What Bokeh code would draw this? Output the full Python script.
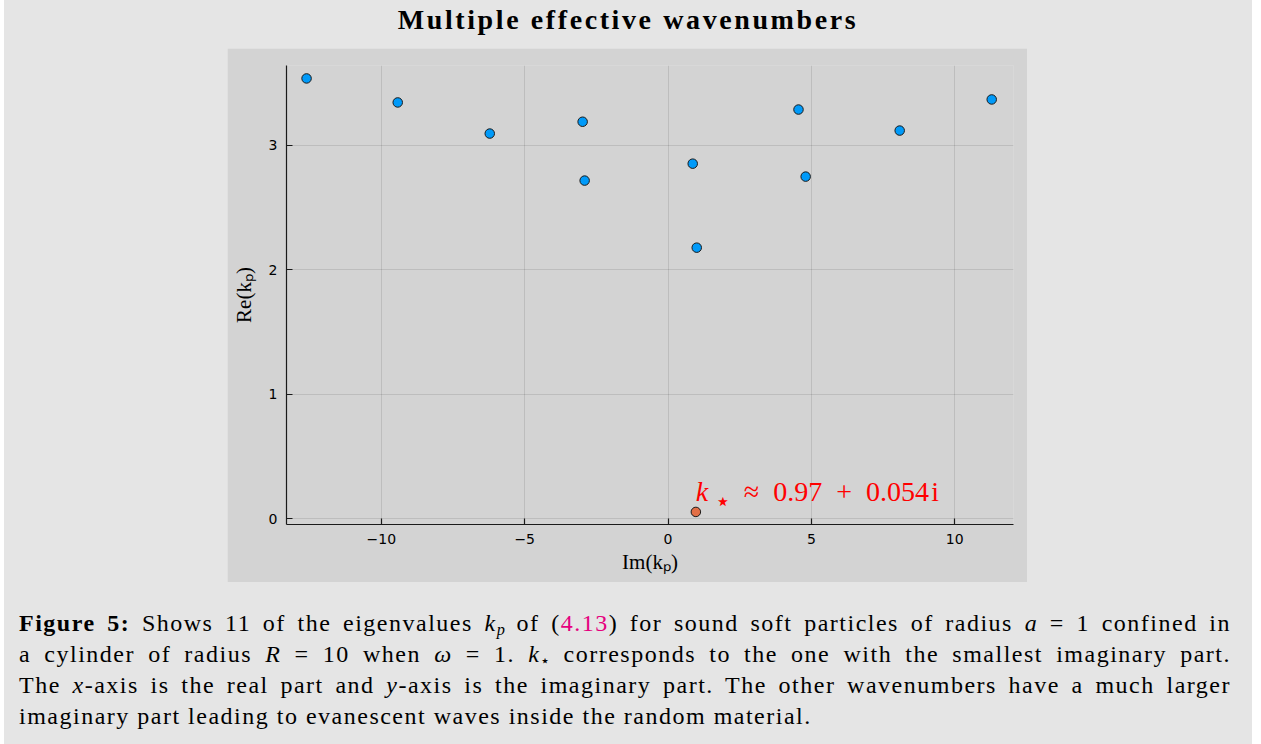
from bokeh.plotting import figure
from bokeh.models import Div, Range1d, FixedTicker, Spacer, Label, GlobalInlineStyleSheet
from bokeh.layouts import column, row
from bokeh.embed import file_html
from bokeh.resources import INLINE

# ---------------- data ----------------
title_text = "Multiple effective wavenumbers"
im_kp = [-12.61, -9.43, -6.22, -2.98, -2.91, 0.86, 1.00, 4.55, 4.80, 8.08, 11.29]
re_kp = [3.538, 3.345, 3.095, 3.190, 2.717, 2.853, 2.178, 3.288, 2.749, 3.119, 3.369]
kstar_im = [0.97]
kstar_re = [0.054]
kstar_k = "k"
kstar_sub = "\u22c6"
kstar_value = "\u2248\u20020.97\u2002+\u20020.054\u200ai"
x_ticks = [-10, -5, 0, 5, 10]
y_ticks = [0, 1, 2, 3]
x_tick_labels = {-10: "\u221210", -5: "\u22125", 0: "0", 5: "5", 10: "10"}
y_tick_labels = {0: "0", 1: "1", 2: "2", 3: "3"}
x_label = "Im(k\u209a)"
y_label = "Re(k\u209a)"

PAGE_BG = "#e5e5e5"
PLOT_BG = "#d3d3d3"
BLUE = "#009af9"
ORANGE = "#e26f46"

# ---------------- plot ----------------
p = figure(width=800, height=534,
           x_range=Range1d(-13.31, 12.05), y_range=Range1d(-0.047, 3.642),
           output_backend="svg", toolbar_location=None,
           min_border_left=59, min_border_right=14,
           min_border_top=17, min_border_bottom=58,
           background_fill_color=PLOT_BG, border_fill_color=PLOT_BG,
           outline_line_color=None)

p.xaxis.ticker = FixedTicker(ticks=x_ticks)
p.yaxis.ticker = FixedTicker(ticks=y_ticks)
p.xaxis.major_label_overrides = x_tick_labels
p.yaxis.major_label_overrides = y_tick_labels
p.xaxis.axis_label = x_label
p.yaxis.axis_label = y_label

for ax in (p.xaxis[0], p.yaxis[0]):
    ax.axis_line_color = "#1a1a1a"
    ax.axis_line_width = 1.2
    ax.major_tick_in = 6
    ax.major_tick_out = 0
    ax.major_tick_line_color = "#1a1a1a"
    ax.major_tick_line_width = 1.2
    ax.minor_tick_line_color = None
    ax.major_label_text_font = "DejaVu Sans"
    ax.major_label_text_font_size = "14px"
    ax.major_label_text_color = "#000000"
    ax.major_label_standoff = 9
    ax.axis_label_text_font = "Liberation Serif"
    ax.axis_label_text_font_size = "21px"
    ax.axis_label_text_font_style = "normal"
    ax.axis_label_text_color = "#000000"
p.xaxis.axis_label_standoff = 3
p.yaxis.axis_label_standoff = 10

p.grid.grid_line_color = "#000000"
p.grid.grid_line_alpha = 0.1
p.grid.grid_line_width = 1

p.scatter(im_kp, re_kp, size=9.5, fill_color=BLUE, line_color="#1a1a1a", line_width=1)
p.scatter(kstar_im, kstar_re, size=9.5, fill_color=ORANGE, line_color="#1a1a1a", line_width=1)

lab_k = Label(x=kstar_im[0], y=kstar_re[0], text=kstar_k, x_offset=0, y_offset=20,
              text_font="Liberation Serif", text_font_style="italic", text_font_size="28px",
              text_color="#ff0000", text_align="left", text_baseline="alphabetic")
lab_s = Label(x=kstar_im[0], y=kstar_re[0], text=kstar_sub, x_offset=19, y_offset=11,
              text_font="DejaVu Sans", text_font_size="26px",
              text_color="#ff0000", text_align="left", text_baseline="middle")
lab_v = Label(x=kstar_im[0], y=kstar_re[0], text=kstar_value, x_offset=48, y_offset=20,
              text_font="Liberation Serif", text_font_size="28px",
              text_color="#ff0000", text_align="left", text_baseline="alphabetic")
for lab in (lab_k, lab_s, lab_v):
    p.add_layout(lab)

# ---------------- title & caption ----------------
title_div = Div(
    text=(f'<div style="font-family:\'Liberation Serif\';font-weight:bold;font-size:28px;'
          f'letter-spacing:2.6px;line-height:28px;text-align:center;padding-top:6px;'
          f'width:1248px;color:#000;">{title_text}</div>'),
    width=1248, height=48, margin=0)

SUB = 'style="font-size:68%;vertical-align:-0.25em;line-height:0;letter-spacing:0"'
LINK = 'style="color:#e5007e"'
caption_lines = [
    f'<b>Figure 5:</b> Shows 11 of the eigenvalues <i>k<sub {SUB}>p</sub></i> of '
    f'(<span {LINK}>4.13</span>) for sound soft particles of radius <i>a</i> = 1 confined in',
    f'a cylinder of radius <i>R</i> = 10 when <i>\u03c9</i> = 1. <i>k</i><sub {SUB}>\u22c6</sub> '
    f'corresponds to the one with the smallest imaginary part.',
    'The <i>x</i>-axis is the real part and <i>y</i>-axis is the imaginary part. '
    'The other wavenumbers have a much larger',
    'imaginary part leading to evanescent waves inside the random material.',
]
line_html = []
for i, ln in enumerate(caption_lines):
    last = "justify" if i < len(caption_lines) - 1 else "left"
    line_html.append(
        f'<div style="text-align:justify;text-align-last:{last};height:31.33px;'
        f'line-height:31.33px;white-space:nowrap;">{ln}</div>')
caption_div = Div(
    text=(f'<div style="font-family:\'Liberation Serif\';font-size:24px;letter-spacing:1.5px;'
          f'color:#000;width:1212px;margin-left:15px;padding-top:25.5px;">'
          + "".join(line_html) + '</div>'),
    width=1248, height=162, margin=0)

page = column(
    title_div,
    row(Spacer(width=223, height=534, margin=0), p, margin=0),
    caption_div,
    width=1248, height=744, margin=0,
    styles={"background-color": PAGE_BG},
)

layout = row(Spacer(width=4, height=744, margin=0), page, width=1252, height=744, margin=0,
             stylesheets=[GlobalInlineStyleSheet(css="html, body { margin: 0 !important; padding: 0 !important; }")])

open("out.html", "w").write(file_html(layout, INLINE))
